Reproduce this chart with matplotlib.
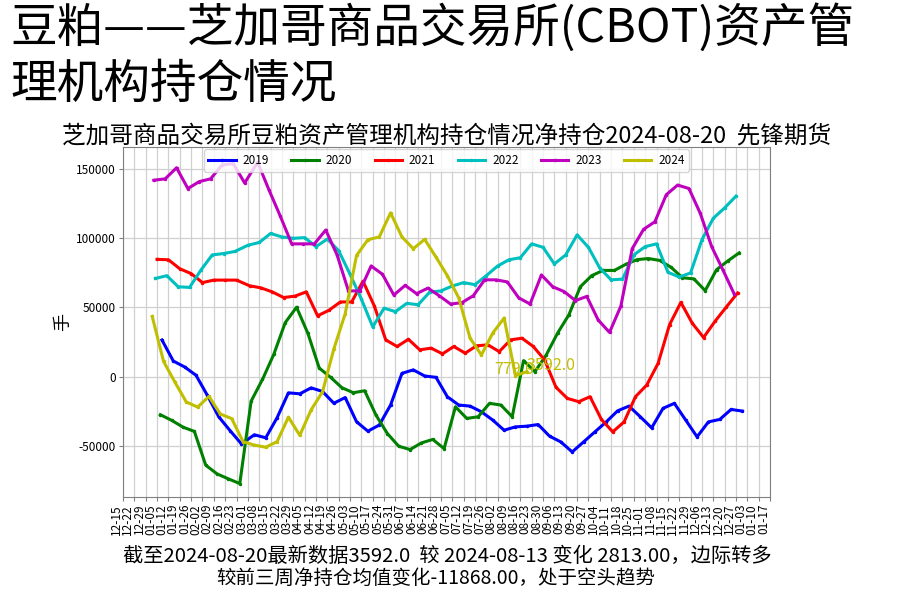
import pandas as pd
import matplotlib
matplotlib.use("Agg")
import matplotlib.pyplot as plt

plt.rcParams['font.family'] = ['Noto Sans CJK SC', 'DejaVu Sans']
plt.rcParams['axes.unicode_minus'] = False

# first Tuesday of each year's data
starts = {
    '2019': '2019-01-08',
    '2020': '2020-01-07',
    '2021': '2021-01-05',
    '2022': '2022-01-04',
    '2023': '2023-01-03',
    '2024': '2024-01-02',
}

v2019 = [26500, 11300, 7000, 1000, -13500, -29000, -39000, -48600, -42000, -44200,
         -29700, -11700, -12400, -8100, -10700, -19200, -15100, -32600, -39400, -35000,
         -20500, 2400, 4900, 500, -500, -14500, -20500, -21300, -25400, -31400,
         -38700, -36300, -35800, -34600, -43000, -47200, -54400, -47200, -39900, -32700,
         -24700, -21300, -29000, -37000, -22900, -19300, -31400, -43500, -32700, -30900,
         -23700, -24900]
v2020 = [-27500, -31600, -36500, -39600, -64000, -70300, -73900, -77300, -17700, -2000,
         16200, 39000, 50200, 31300, 6200, -500, -8000, -11600, -10200, -27800,
         -41100, -50300, -52700, -47900, -45400, -52000, -21800, -30200, -29000, -19300,
         -20500, -29000, 11600, 3600, 15700, 31500, 44800, 65000, 73000, 76800,
         76800, 81200, 84600, 85400, 84000, 79000, 71500, 70700, 62200, 77300,
         83700, 89500]
v2021 = [84800, 84500, 78000, 74500, 68000, 69800, 69800, 69800, 65700, 64200,
         61300, 57200, 58200, 61300, 44000, 48000, 54000, 54000, 69000, 51000,
         26600, 21800, 27000, 19400, 20600, 16500, 21800, 17000, 22300, 23000,
         18100, 26600, 27800, 21800, 12100, -7700, -15700, -18100, -14500, -30900,
         -39900, -32700, -14500, -6000, 9700, 37500, 53700, 38700, 28300, 39900,
         50300, 60500]
v2022 = [71000, 73000, 65000, 64500, 77000, 88000, 89000, 90500, 95000, 97000,
         103500, 101000, 100000, 100500, 94000, 99500, 91000, 74000, 56000, 36000,
         49500, 47000, 53000, 52000, 61000, 62000, 65500, 68000, 66500, 73000,
         80000, 84500, 86000, 96000, 93500, 81500, 88000, 102500, 93500, 78500,
         70000, 70500, 88000, 94000, 96000, 75500, 72000, 75000, 99000, 114500,
         122000, 130500]
v2023 = [142000, 143000, 151000, 136000, 141000, 143000, 153000, 154000, 140000, 155000,
         135000, 116000, 96000, 96000, 96000, 106000, 88000, 62000, 62000, 80000,
         74000, 59000, 66000, 60000, 64000, 58500, 52500, 53500, 58500, 70000,
         70000, 68500, 57000, 52500, 73500, 65000, 61500, 55000, 58000, 41000,
         32000, 51000, 92500, 106500, 112000, 131500, 138500, 136000, 118000, 94000,
         77000, 59500]
v2024 = [43500, 11000, -4000, -18300, -22000, -14300, -27000, -30300, -47000, -49500,
         -51000, -47000, -29300, -42400, -24000, -11000, 20000, 45500, 87600, 99000,
         101000, 118400, 101000, 92500, 99300, 86400, 73000, 57000, 27900, 15700,
         31500, 42400, 779, 3592]

series = {'2019': v2019, '2020': v2020, '2021': v2021,
          '2022': v2022, '2023': v2023, '2024': v2024}
colors = {'2019': 'b', '2020': 'g', '2021': 'r', '2022': 'c', '2023': 'm', '2024': 'y'}

tick_dates = pd.date_range('2023-12-15', '2025-01-17', freq='7D')
tick_labels = [d.strftime('%m-%d') for d in tick_dates]

header1 = '豆粕——芝加哥商品交易所(CBOT)资产管'
header2 = '理机构持仓情况'
title = '芝加哥商品交易所豆粕资产管理机构持仓情况净持仓2024-08-20  先锋期货'
note1 = '截至2024-08-20最新数据3592.0  较 2024-08-13 变化 2813.00，边际转多'
note2 = '较前三周净持仓均值变化-11868.00，处于空头趋势'


def to_common_year(year, vals):
    # put every year on the same month-day axis (2024)
    dates = pd.date_range(starts[year], periods=len(vals), freq='7D')
    return [d.replace(year=2024) for d in dates]


fig = plt.figure(figsize=(9, 5.95), dpi=100)
ax = fig.add_axes([0.1367, 0.1647, 0.7189, 0.5882])

for year, vals in series.items():
    xs = to_common_year(year, vals)
    ax.plot(xs, vals, color=colors[year], lw=2.2, marker='.', ms=3, label=year)

# last two points of the current year
xs24 = to_common_year('2024', v2024)
ax.annotate('%.1f' % v2024[-2], (xs24[-2], v2024[-2]), color='y', fontsize=11.5,
            ha='center', va='baseline', xytext=(-1, 1), textcoords='offset points')
ax.annotate('%.1f' % v2024[-1], (xs24[-1], v2024[-1]), color='y', fontsize=11.5,
            ha='left', va='baseline', xytext=(0, 1), textcoords='offset points')

ax.set_xlim(tick_dates[0], tick_dates[-1])
ax.set_xticks(tick_dates)
ax.set_xticklabels(tick_labels, rotation=90, ha='right', fontsize=8.5)
ax.set_ylim(-87000, 166000)
ax.set_yticks([-50000, 0, 50000, 100000, 150000])
ax.set_yticklabels(['-50000', '0', '50000', '100000', '150000'], fontsize=8.5)
ax.tick_params(axis='both', length=3, color='#808080', pad=2)
ax.grid(True, color='#d0d0d0', lw=0.9)
ax.set_axisbelow(True)
for s in ax.spines.values():
    s.set_color('#808080')
ax.spines['bottom'].set_linestyle((0, (1, 1)))
ax.set_ylabel('手', fontsize=13, labelpad=3)

ax.set_title(title, fontsize=17, pad=3)
ax.legend(loc='upper center', ncol=6, fontsize=8.5, handlelength=2.3,
          handletextpad=0.6, columnspacing=1.9, borderaxespad=0.2)

fig.text(10 / 900, 1 - 4 / 595, header1, fontsize=33.6, va='top', ha='left')
fig.text(10 / 900, 1 - 60 / 595, header2, fontsize=33.6, va='top', ha='left')
fig.text(447 / 900, 1 - 556 / 595, note1, fontsize=14.6, ha='center', va='center')
fig.text(436 / 900, 1 - 578 / 595, note2, fontsize=14, ha='center', va='center')

fig.savefig('out.png', dpi=100)
